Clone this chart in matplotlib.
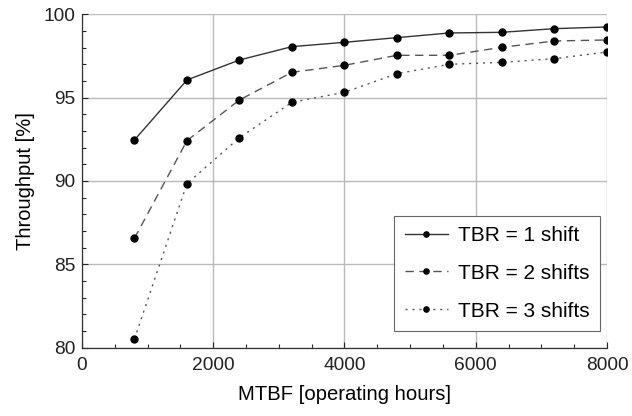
import matplotlib
matplotlib.use("Agg")
import matplotlib.pyplot as plt
from matplotlib.ticker import MultipleLocator

mtbf = [800, 1600, 2400, 3200, 4000, 4800, 5600, 6400, 7200, 8000]
tbr1 = [92.46, 96.06, 97.26, 98.06, 98.32, 98.60, 98.88, 98.92, 99.14, 99.24]
tbr2 = [86.56, 92.42, 94.86, 96.52, 96.94, 97.54, 97.54, 98.02, 98.40, 98.46]
tbr3 = [80.52, 89.84, 92.60, 94.72, 95.32, 96.44, 97.00, 97.12, 97.34, 97.74]
labels = ["TBR = 1 shift", "TBR = 2 shifts", "TBR = 3 shifts"]

plt.rcParams['font.family'] = ['Liberation Sans', 'DejaVu Sans']

fig = plt.figure(figsize=(6.32, 4.16), dpi=100)
ax = fig.add_axes([0.1297, 0.1644, 0.8307, 0.8012])

ax.plot(mtbf, tbr1, '-', color='#333333', lw=1.0, marker='o', ms=5,
        mfc='black', mec='black', label=labels[0])
ax.plot(mtbf, tbr2, '--', color='#555555', lw=1.0, marker='o', ms=5,
        mfc='black', mec='black', label=labels[1], dashes=(6, 4))
ax.plot(mtbf, tbr3, ':', color='#555555', lw=1.0, marker='o', ms=5,
        mfc='black', mec='black', label=labels[2], dashes=(1.5, 3.5))

ax.set_xlim(0, 8000)
ax.set_ylim(80, 100)
ax.xaxis.set_major_locator(MultipleLocator(2000))
ax.xaxis.set_minor_locator(MultipleLocator(500))
ax.yaxis.set_major_locator(MultipleLocator(5))
ax.yaxis.set_minor_locator(MultipleLocator(1))
ax.tick_params(which='both', direction='in', labelsize=13.8, colors='#222222')
ax.tick_params(which='major', length=4, width=0.8)
ax.tick_params(which='minor', length=3, width=0.8)
ax.tick_params(axis='x', pad=7)
ax.tick_params(axis='y', pad=5)

ax.grid(True, which='major', color='#bbbbbb', lw=1.0)
for s in ['top', 'right']:
    ax.spines[s].set_visible(False)
for s in ['left', 'bottom']:
    ax.spines[s].set_color('#333333')
    ax.spines[s].set_linewidth(0.9)

ax.set_xlabel("MTBF [operating hours]", fontsize=14.6, labelpad=8)
ax.set_ylabel("Throughput [%]", fontsize=14.5, labelpad=6)

leg = ax.legend(loc='lower right', bbox_to_anchor=(0.9867, 0.05), fontsize=15,
                fancybox=False, framealpha=1, edgecolor='#666666',
                handlelength=2.07, handletextpad=0.48, labelspacing=0.9,
                borderpad=0.5, borderaxespad=0, markerscale=0.75)
leg.get_frame().set_linewidth(0.8)

fig.savefig("out.png", dpi=100)
